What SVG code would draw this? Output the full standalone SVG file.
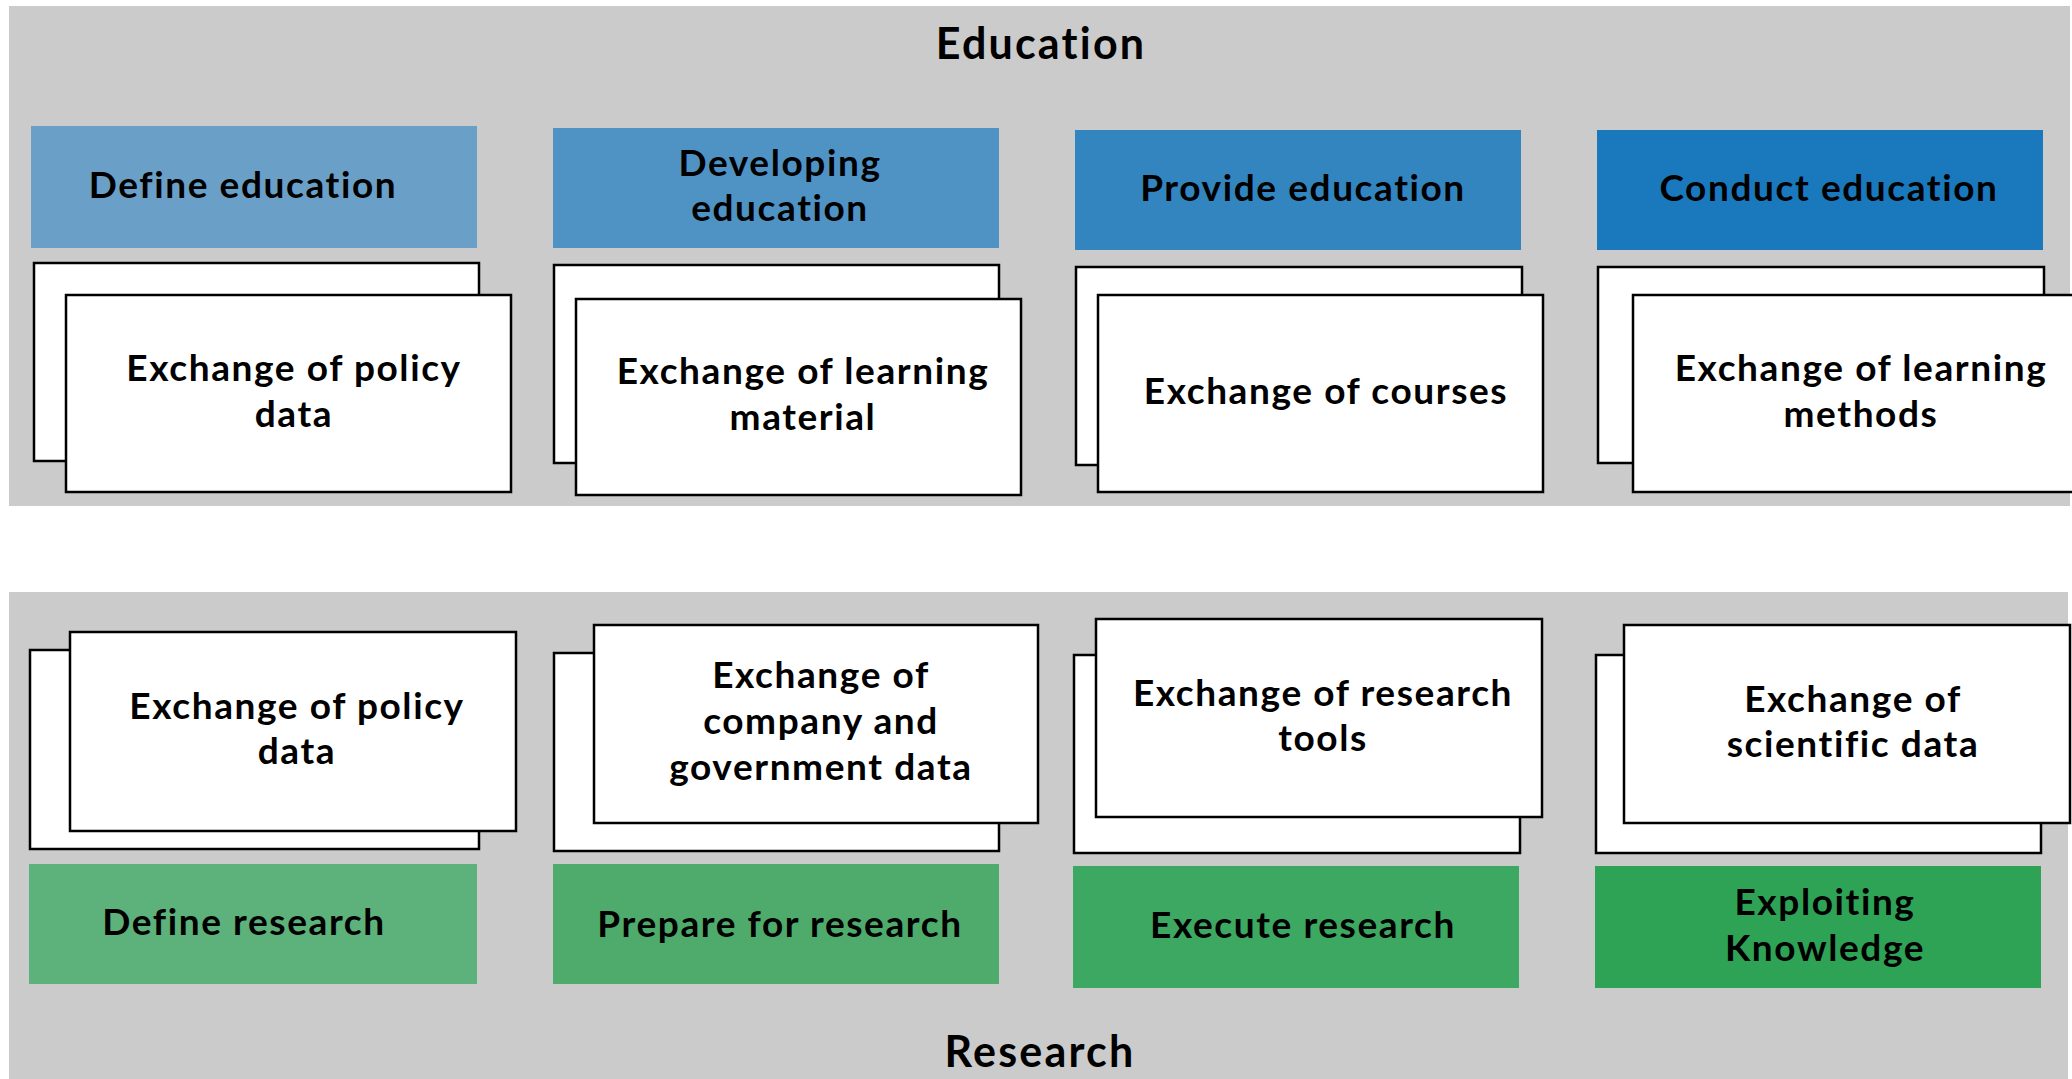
<svg xmlns="http://www.w3.org/2000/svg" width="2072" height="1079" viewBox="0 0 2072 1079">
<style>
.bg{fill:#cbcbcb}
.card{fill:#fff;stroke:#000;stroke-width:2.5}
.t{font-family:Lato,"Noto Sans",sans-serif;font-weight:bold;font-size:37px;letter-spacing:1.6px;fill:#000;text-anchor:middle}
.h{font-family:Lato,"Noto Sans",sans-serif;font-weight:bold;font-size:43px;letter-spacing:2.2px;fill:#000;text-anchor:middle}
</style>
<rect width="2072" height="1079" fill="#fff"/>
<g id="education">
<rect class="bg" x="9" y="6" width="2061" height="500"/>
<text class="h" x="1041" y="59">Education</text>
</g>
<g id="research">
<rect class="bg" x="9" y="592" width="2059" height="487"/>
<text class="h" x="1040" y="1067">Research</text>
</g>
<g id="define-education">
<rect x="31" y="126" width="446" height="122" fill="#6aa0c7"/>
<text class="t" x="243" y="198">Define education</text>
</g>
<g id="developing-education">
<rect x="553" y="128" width="446" height="120" fill="#4f93c5"/>
<text class="t" x="780" y="176">Developing</text>
<text class="t" x="780" y="221">education</text>
</g>
<g id="provide-education">
<rect x="1075" y="130" width="446" height="120" fill="#3385c0"/>
<text class="t" x="1303" y="201">Provide education</text>
</g>
<g id="conduct-education">
<rect x="1597" y="130" width="446" height="120" fill="#1a78bd"/>
<text class="t" x="1829" y="201">Conduct education</text>
</g>
<g id="e-policy">
<rect class="card" x="34" y="263" width="445" height="198"/>
<rect class="card" x="66" y="295" width="445" height="197"/>
<text class="t" x="294" y="381">Exchange of policy</text>
<text class="t" x="294" y="427">data</text>
</g>
<g id="e-learning-material">
<rect class="card" x="554" y="265" width="445" height="198"/>
<rect class="card" x="576" y="299" width="445" height="196"/>
<text class="t" x="803" y="384">Exchange of learning</text>
<text class="t" x="803" y="430">material</text>
</g>
<g id="e-courses">
<rect class="card" x="1076" y="267" width="446" height="198"/>
<rect class="card" x="1098" y="295" width="445" height="197"/>
<text class="t" x="1326" y="404">Exchange of courses</text>
</g>
<g id="e-learning-methods">
<rect class="card" x="1598" y="267" width="446" height="196"/>
<rect class="card" x="1633" y="295" width="450" height="197"/>
<text class="t" x="1861" y="381">Exchange of learning</text>
<text class="t" x="1861" y="427">methods</text>
</g>
<g id="r-policy">
<rect class="card" x="30" y="650" width="449" height="199"/>
<rect class="card" x="70" y="632" width="446" height="199"/>
<text class="t" x="297" y="719">Exchange of policy</text>
<text class="t" x="297" y="764">data</text>
</g>
<g id="r-company">
<rect class="card" x="554" y="653" width="445" height="198"/>
<rect class="card" x="594" y="625" width="444" height="198"/>
<text class="t" x="821" y="688">Exchange of</text>
<text class="t" x="821" y="734">company and</text>
<text class="t" x="821" y="780">government data</text>
</g>
<g id="r-tools">
<rect class="card" x="1074" y="655" width="446" height="198"/>
<rect class="card" x="1096" y="619" width="446" height="198"/>
<text class="t" x="1323" y="706">Exchange of research</text>
<text class="t" x="1323" y="751">tools</text>
</g>
<g id="r-scientific">
<rect class="card" x="1596" y="655" width="445" height="198"/>
<rect class="card" x="1624" y="625" width="446" height="198"/>
<text class="t" x="1853" y="712">Exchange of</text>
<text class="t" x="1853" y="757">scientific data</text>
</g>
<g id="define-research">
<rect x="29" y="864" width="448" height="120" fill="#5db17a"/>
<text class="t" x="244" y="935">Define research</text>
</g>
<g id="prepare-research">
<rect x="553" y="864" width="446" height="120" fill="#4eab6c"/>
<text class="t" x="780" y="937">Prepare for research</text>
</g>
<g id="execute-research">
<rect x="1073" y="866" width="446" height="122" fill="#3da862"/>
<text class="t" x="1303" y="938">Execute research</text>
</g>
<g id="exploiting-knowledge">
<rect x="1595" y="866" width="446" height="122" fill="#2ea356"/>
<text class="t" x="1825" y="915">Exploiting</text>
<text class="t" x="1825" y="961">Knowledge</text>
</g>
<g id="connectors"/>
</svg>
